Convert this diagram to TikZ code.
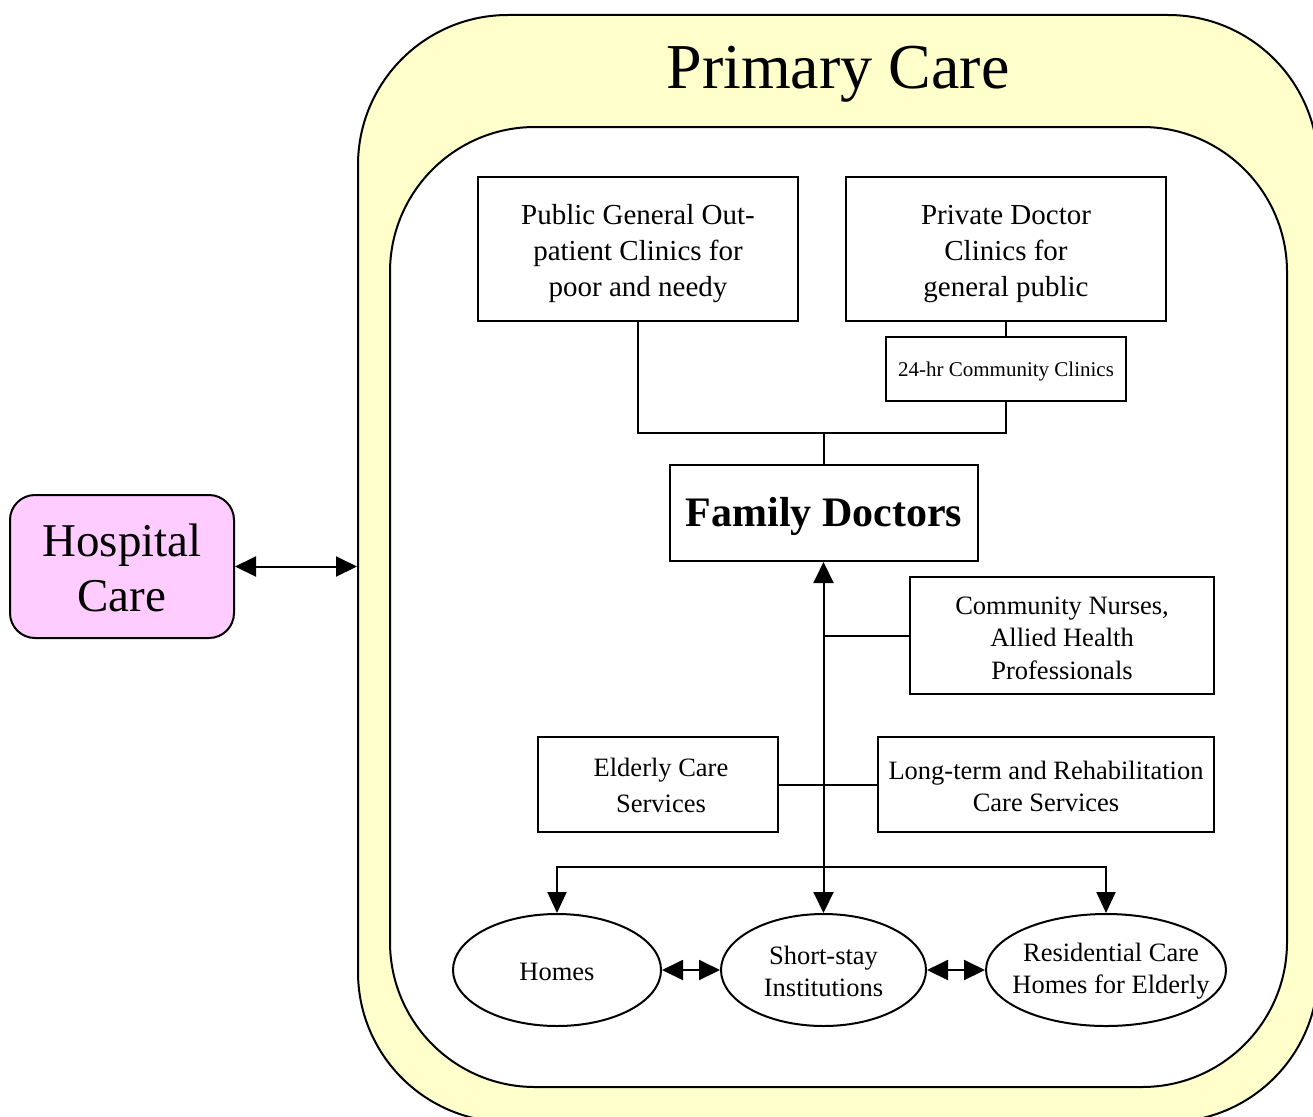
\documentclass[tikz,border=0pt]{standalone}
\usepackage{fontspec}
\setmainfont{Liberation Serif}
\usetikzlibrary{arrows.meta,shapes.geometric}
\definecolor{pcyellow}{HTML}{FFFFCC}
\definecolor{hpink}{HTML}{FFCCFF}
\newcommand\pushdown[2]{\raisebox{0pt}[\dimexpr\height+#1\relax]{#2}}
\begin{document}
\begin{tikzpicture}[x=1pt,y=-1pt,line width=2pt,
  tip/.style={-{Triangle[length=21pt,width=19pt]}},
  dtip/.style={{Triangle[length=21pt,width=20pt]}-{Triangle[length=21pt,width=20pt]}},
  boxA/.style={draw,rectangle,inner sep=0pt,align=center,font=\fontsize{29}{36}\selectfont},
  boxB/.style={draw,rectangle,inner sep=0pt,align=center,font=\fontsize{26.5}{32.5}\selectfont},
  ell/.style={draw,ellipse,inner xsep=-50pt,inner ysep=0pt,align=center,font=\fontsize{26.5}{32}\selectfont}]
\useasboundingbox (0,0) rectangle (1313,1116);
% outer and inner regions
\node[draw,fill=pcyellow,rounded corners=150pt,minimum width=960pt,minimum height=1107pt,inner sep=0pt] (pc) at (838,568.5) {};
\node[draw,fill=white,rounded corners=145pt,minimum width=897pt,minimum height=960pt,inner sep=0pt] (inner) at (838.5,607) {};
\node[font=\fontsize{64}{70}\selectfont,inner sep=0pt] (title) at (838,74) {Primary Care};
% hospital
\node[draw,fill=hpink,rounded corners=25pt,minimum width=224pt,minimum height=143pt,inner sep=0pt,align=center,font=\fontsize{47}{55}\selectfont] (hosp) at (122,566.5) {\pushdown{3pt}{Hospital}\\Care};
% boxes
\node[boxA,minimum width=320pt,minimum height=144pt] (pub) at (638,249) {\pushdown{9pt}{Public General Out-}\\patient Clinics for\\poor and needy};
\node[boxA,minimum width=320pt,minimum height=144pt] (priv) at (1006,249) {\pushdown{10pt}{Private Doctor}\\Clinics for\\general public};
\node[draw,rectangle,inner sep=0pt,minimum width=240pt,minimum height=64pt,font=\fontsize{21}{25}\selectfont] (cc) at (1006,369) {\pushdown{4pt}{24-hr Community Clinics}};
\node[draw,rectangle,inner sep=0pt,minimum width=308pt,minimum height=96pt,font=\fontsize{42}{48}\selectfont\bfseries] (fd) at (824,513) {\pushdown{6pt}{Family Doctors}};
\node[boxB,minimum width=304pt,minimum height=117pt] (cn) at (1062,635.5) {\pushdown{5pt}{Community Nurses,}\\Allied Health\\Professionals};
\node[boxB,minimum width=240pt,minimum height=95pt,font=\fontsize{26.5}{36}\selectfont] (ec) at (658,784.5) {\pushdown{2pt}{\hspace*{6pt}Elderly Care}\\\hspace*{6pt}Services};
\node[boxB,minimum width=336pt,minimum height=95pt] (lt) at (1046,784.5) {\pushdown{4pt}{Long-term and Rehabilitation}\\Care Services};
% ellipses
\node[ell,minimum width=208pt,minimum height=112pt] (homes) at (557,970) {\pushdown{3pt}{Homes}};
\node[ell,minimum width=205pt,minimum height=112pt] (ss) at (823.5,970) {\pushdown{2pt}{Short-stay}\\Institutions};
\node[ell,minimum width=240pt,minimum height=112pt] (res) at (1106,970) {\pushdown{2pt}{\hspace*{10pt}Residential Care}\\\hspace*{10pt}Homes for Elderly};
% connectors
\coordinate (j) at (824,433);
\coordinate (br) at (824,867);
\draw[dtip] (hosp.east) -- (hosp.east -| pc.west);
\draw (priv.south) -- (cc.north);
\draw (pub.south) |- (j) -| (cc.south);
\draw (j) -- (j |- fd.north);
\draw[dtip] (fd.south -| ss.north) -- (ss.north);
\draw (cn.west) -- (cn.west -| ss.north);
\draw (ec.east) -- (lt.west);
\draw[tip] (br) -| (homes.north);
\draw[tip] (br) -| (res.north);
\draw[dtip] (homes.east) -- (ss.west);
\draw[dtip] (ss.east) -- (res.west);
\end{tikzpicture}
\end{document}
